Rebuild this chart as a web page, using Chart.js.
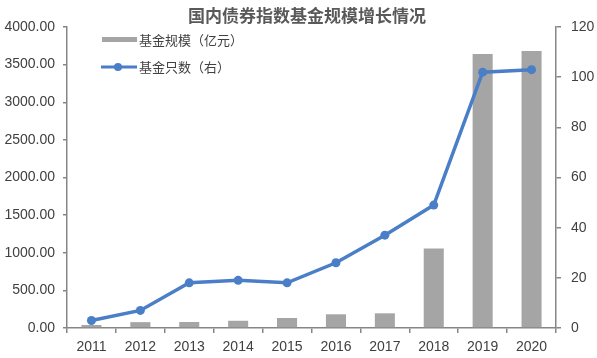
<!DOCTYPE html>
<html>
<head>
<meta charset="utf-8">
<script src="https://cdn.jsdelivr.net/npm/chart.js@4"></script>
<style>
  html, body { margin: 0; padding: 0; background: #ffffff; }
  #wrap { width: 597px; height: 358px; position: relative; }
</style>
</head>
<body>
<div id="wrap"><canvas id="c" width="597" height="358"></canvas></div>
<script>
const TITLE = "国内债券指数基金规模增长情况";
const years = ["2011","2012","2013","2014","2015","2016","2017","2018","2019","2020"];
const fundSize = [40, 78, 80, 96, 133, 182, 195, 1055, 3640, 3680];   // 基金规模（亿元）
const fundCount = [3, 7, 18, 19, 18, 26, 37, 49, 102, 103];          // 基金只数（右）
const sizeLabel = "基金规模（亿元）";
const countLabel = "基金只数（右）";

const TICK_FONT = { family: "'Liberation Sans', sans-serif", size: 14 };
const TEXT_COLOR = "#404040";
const AXIS_COLOR = "#868686";
const BAR_COLOR = "#A5A5A5";
const LINE_COLOR = "#4A7EC7";

const overlay = {
  id: "overlay",
  afterDraw(chart) {
    const ctx = chart.ctx;
    ctx.save();
    // title
    ctx.fillStyle = "#595959";
    ctx.font = "bold 17px 'Noto Sans CJK SC'";
    ctx.textAlign = "center";
    ctx.textBaseline = "middle";
    ctx.fillText(TITLE, 307, 16);
    // legend
    ctx.textAlign = "left";
    ctx.font = "13px 'Noto Sans CJK SC'";
    ctx.fillStyle = BAR_COLOR;
    ctx.fillRect(102, 37, 35, 5);
    ctx.fillStyle = TEXT_COLOR;
    ctx.fillText(chart.data.datasets[1].label, 139, 40);
    ctx.strokeStyle = LINE_COLOR;
    ctx.lineWidth = 3;
    ctx.beginPath(); ctx.moveTo(101, 67); ctx.lineTo(137, 67); ctx.stroke();
    ctx.fillStyle = LINE_COLOR;
    ctx.beginPath(); ctx.arc(118, 67, 4, 0, Math.PI * 2); ctx.fill();
    ctx.fillStyle = TEXT_COLOR;
    ctx.fillText(chart.data.datasets[0].label, 139, 67);
    ctx.restore();
  }
};

new Chart(document.getElementById("c"), {
  data: {
    labels: years,
    datasets: [
      {
        type: "line", label: countLabel, data: fundCount, yAxisID: "y1", order: 1,
        borderColor: LINE_COLOR, backgroundColor: LINE_COLOR, borderWidth: 3.5,
        pointRadius: 4.5, pointBackgroundColor: LINE_COLOR, pointBorderWidth: 0,
        tension: 0
      },
      {
        type: "bar", label: sizeLabel, data: fundSize, yAxisID: "y", order: 2,
        backgroundColor: BAR_COLOR, categoryPercentage: 1.0, barPercentage: 0.41
      }
    ]
  },
  options: {
    responsive: false,
    animation: false,
    devicePixelRatio: 1,
    layout: { padding: { top: 27, left: 0, right: 0, bottom: 0 } },
    plugins: { legend: { display: false }, title: { display: false }, tooltip: { enabled: false } },
    scales: {
      x: {
        offset: true,
        grid: { offset: true, drawOnChartArea: false, drawTicks: true, tickLength: 5, color: AXIS_COLOR, lineWidth: 1.5 },
        border: { display: true, color: AXIS_COLOR, width: 1.5 },
        ticks: { color: TEXT_COLOR, font: TICK_FONT, padding: 6, maxRotation: 0 },
        afterFit(s) { s.height = 30; }
      },
      y: {
        position: "left", min: 0, max: 4000,
        grid: { drawOnChartArea: false, drawTicks: true, tickLength: 4, color: AXIS_COLOR, lineWidth: 1.5 },
        border: { display: true, color: AXIS_COLOR, width: 1.5 },
        ticks: { stepSize: 500, color: TEXT_COLOR, font: TICK_FONT, padding: 8, callback: v => Number(v).toFixed(2) },
        afterFit(s) { s.width = 67; }
      },
      y1: {
        position: "right", min: 0, max: 120,
        grid: { drawOnChartArea: false, drawTicks: true, tickLength: 5, color: AXIS_COLOR, lineWidth: 1.5 },
        border: { display: true, color: AXIS_COLOR, width: 1.5 },
        ticks: { stepSize: 20, color: TEXT_COLOR, font: TICK_FONT, padding: 10 },
        afterFit(s) { s.width = 41; }
      }
    }
  },
  plugins: [overlay]
});
</script>
</body>
</html>
